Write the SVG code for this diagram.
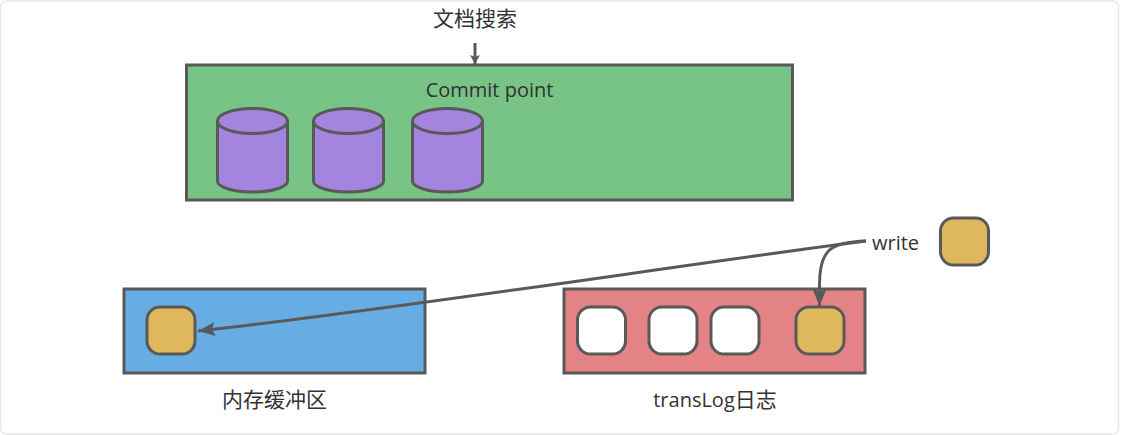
<svg xmlns="http://www.w3.org/2000/svg" width="1124" height="435" viewBox="0 0 1124 435">
<style>
.s{stroke:#595959;stroke-width:3}
.g{fill:#dfb85e}
.w{fill:#fff}
.c{fill:#a385e0;stroke:#595959;stroke-width:3}
.conn{fill:none;stroke:#595959;stroke-width:3}
text{font-family:"Open Sans","Noto Sans CJK SC",sans-serif;font-size:20px;fill:#323232;text-anchor:middle}
.z{font-size:21px}
</style>
<defs>
<marker id="a" markerUnits="userSpaceOnUse" markerWidth="20" markerHeight="16" refX="17" refY="8" orient="auto"><path d="M0 1L17 8L0 15L3 8Z" fill="#595959"/></marker>
<marker id="b" markerUnits="userSpaceOnUse" markerWidth="12" markerHeight="12" refX="9" refY="6" orient="auto"><path d="M0 1L9 6L0 11L2 6Z" fill="#595959"/></marker>
<g id="cyl"><path class="c" d="M-35 13V73C-35 79-20 84 0 84S35 79 35 73V13"/><ellipse class="c" cx="0" cy="13" rx="35" ry="12.500"/></g>
</defs>
<rect x="0.5" y="1" width="1118" height="433" rx="6" fill="#fff" stroke="#e8e8e8" stroke-width="1.5"/>
<g id="n-search"><text class="z" x="475" y="26">文档搜索</text></g>
<g id="n-commit">
<rect class="s" x="186.500" y="65" width="606" height="135" fill="#78c386"/>
<text x="489.500" y="97">Commit point</text>
<use href="#cyl" x="252.500" y="108"/>
<use href="#cyl" x="348.500" y="108"/>
<use href="#cyl" x="447.500" y="108"/>
</g>
<g id="n-buffer">
<rect class="s" x="124" y="289" width="301" height="84" fill="#66ade3"/>
<rect id="n-buffer-doc" class="s g" x="147" y="307" width="48" height="47" rx="13"/>
<text class="z" x="274.500" y="407">内存缓冲区</text>
</g>
<g id="n-translog">
<rect class="s" x="564" y="289" width="301" height="84" fill="#e38385"/>
<rect class="s w" x="577.500" y="307" width="48" height="47" rx="13"/>
<rect class="s w" x="649" y="307" width="48" height="47" rx="13"/>
<rect class="s w" x="711" y="307" width="48" height="47" rx="13"/>
<rect id="n-translog-doc" class="s g" x="796" y="307" width="48" height="47" rx="13"/>
<text x="715" y="407">transLog<tspan class="z">日志</tspan></text>
</g>
<g id="n-write"><text x="895.500" y="250">write</text></g>
<g id="n-doc"><rect class="s g" x="940.500" y="218" width="48" height="47" rx="13"/></g>
<g id="connectors">
<path class="conn" d="M475 43V64" marker-end="url(#b)"/>
<path class="conn" d="M866 241C700 262 400 309 198 331" marker-end="url(#a)"/>
<path class="conn" d="M866 241C830 242 819.500 250 819.500 285V306" marker-end="url(#a)"/>
</g>
</svg>
